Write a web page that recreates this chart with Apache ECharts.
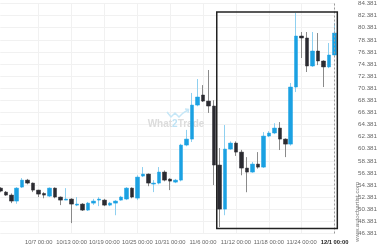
<!DOCTYPE html>
<html><head><meta charset="utf-8">
<script src="https://cdn.jsdelivr.net/npm/echarts@6/dist/echarts.min.js"></script>
<style>html,body{margin:0;padding:0;background:#fff}#c{width:380px;height:250px}</style>
</head><body><div id="c"></div>
<script>
const categories = ["9/30","10/1","10/2","10/3","10/4","10/5","10/6","10/7","10/8","10/9","10/10","10/11","10/12","10/13","10/14","10/15","10/16","10/17","10/18","10/19","10/20","10/21","10/22","10/23","10/24","10/25","10/26","10/27","10/28","10/29","10/30","10/31","11/1","11/2","11/3","11/4","11/5","11/6","11/7","11/8","11/9","11/10","11/11","11/12","11/13","11/14","11/15","11/16","11/17","11/18","11/19","11/20","11/21","11/22","11/23","11/24","11/25","11/26","11/27","11/28","11/29","12/1"];
const opens  = [53.88,53.22,52.73,51.74,54.05,55.20,54.71,53.55,53.00,52.56,53.88,52.40,51.90,52.07,51.07,51.24,50.25,51.40,51.90,51.90,51.07,51.40,51.90,52.07,53.88,52.23,55.87,56.20,54.55,54.71,56.53,55.37,54.87,55.20,60.99,61.98,67.60,69.26,68.26,67.44,57.69,50.41,60.33,61.32,59.83,57.19,56.53,57.85,57.35,62.48,62.98,63.80,61.98,61.15,70.58,79.01,78.68,74.05,76.53,74.88,73.90,75.87];
const closes = [53.39,52.73,51.74,53.88,55.20,54.71,53.55,52.89,52.73,53.88,52.40,51.90,52.07,51.24,51.24,50.25,51.40,51.74,52.07,51.07,51.40,51.74,52.40,53.88,52.40,55.70,56.20,54.71,54.71,56.53,55.20,55.04,55.20,60.99,61.98,67.60,68.93,68.26,67.44,57.69,50.41,60.33,61.32,59.83,57.19,56.53,57.85,57.35,62.48,62.98,63.80,61.98,61.15,70.58,79.01,78.68,74.05,76.53,74.88,73.90,75.87,79.50];
const lows   = [53.20,52.60,51.40,51.30,53.90,54.50,53.22,52.40,52.20,52.40,52.20,51.07,51.90,48.10,50.90,50.10,50.10,51.10,50.90,50.90,50.90,49.40,51.80,51.90,52.20,51.90,55.70,54.20,53.22,54.50,55.00,53.55,54.70,55.00,60.80,61.50,67.40,68.10,66.30,54.38,47.45,49.40,60.20,59.20,56.00,53.20,56.40,57.10,57.20,62.30,62.80,60.17,59.00,60.90,69.75,75.37,73.06,73.90,74.20,70.58,73.70,75.60];
const highs  = [54.05,53.40,53.00,54.05,55.54,55.40,54.80,53.60,53.20,54.00,54.00,52.50,53.88,52.20,52.40,51.40,51.60,52.10,52.40,52.10,51.60,51.90,52.60,54.05,54.00,56.00,57.36,56.30,55.20,57.36,56.80,55.50,55.40,61.20,63.50,69.60,71.90,70.90,73.39,68.40,60.50,64.30,61.60,61.60,60.20,59.00,58.20,59.83,63.14,63.30,64.60,64.79,62.10,71.24,82.81,79.67,79.67,79.67,79.50,75.00,77.85,81.16];
const yTickBase = 46.381, yTickTop = 84.381, yTickStep = 2;
const labelIndices = [7,13,19,25,31,37,43,49,55,61];
const boxFrom = 39.5, boxTo = 61.5, boxHigh = 82.98, boxLow = 47.22;

const off = yTickBase - Math.floor(yTickBase); // 0.381 shift so ticks sit on integers
const sh = v => +(v - off).toFixed(3);
const wickData = opens.map((o,i)=>[sh(o),sh(closes[i]),sh(lows[i]),sh(highs[i])]);
const bodyData = opens.map((o,i)=>[sh(o),sh(closes[i]),sh(Math.min(o,closes[i])),sh(Math.max(o,closes[i]))]);
const showIdx = (i)=>labelIndices.indexOf(i)>=0;
const font = 'Liberation Sans, Arial, sans-serif';

const chart = echarts.init(document.getElementById('c'));
chart.setOption({
  animation:false,
  grid:{left:0.3, right:42, top:3.5, bottom:16.5, containLabel:false},
  xAxis:{type:'category', data:categories, boundaryGap:false,
    axisLine:{show:false}, axisTick:{show:false},
    splitLine:{show:true, interval:(i)=>showIdx(i), lineStyle:{color:'#f1f1f1', width:1}},
    axisLabel:{interval:(i)=>showIdx(i), margin:6, fontSize:5.8, fontFamily:font, color:'#666',
      formatter:(v,i)=> i===categories.length-1 ? '{b|'+v+' 00:00}' : v+' 00:00',
      rich:{b:{fontSize:5.8, fontFamily:font, fontWeight:'bold', color:'#222'}}}},
  yAxis:{type:'value', position:'right', min:sh(yTickBase), max:sh(yTickTop), interval:yTickStep, scale:true,
    axisLine:{show:false}, axisTick:{show:false},
    splitLine:{lineStyle:{color:'#f1f1f1', width:1}},
    axisLabel:{margin:23.5, fontSize:6.2, fontFamily:font, color:'#666', formatter:(v)=>(v+off).toFixed(3)}},
  series:[
    {type:'candlestick', data:wickData, barWidth:1, clip:false,
      itemStyle:{color:'#8fd0f0', color0:'#8a8a8a', borderColor:'#8fd0f0', borderColor0:'#8a8a8a', borderWidth:1}},
    {type:'candlestick', data:bodyData, barWidth:4, clip:false,
      itemStyle:{color:'#1ba1e2', color0:'#2b2b31', borderColor:'#1ba1e2', borderColor0:'#2b2b31', borderWidth:0.5},
      markLine:{silent:true, symbol:'none', label:{show:false},
        lineStyle:{color:'#9a9a9a', type:[2,2], width:1}, data:[{xAxis:categories.length-1}]}}
  ]
});

const p = (x,y)=>chart.convertToPixel({gridIndex:0},[x,y]);
const a0 = p(Math.floor(boxFrom), sh(boxHigh)), a1 = p(Math.ceil(boxFrom), sh(boxHigh));
const b0 = p(Math.floor(boxTo), sh(boxLow)), b1 = p(Math.floor(boxTo)-1, sh(boxLow));
const x1 = (a0[0]+a1[0])/2, x2 = b0[0] + (b0[0]-b1[0])/2;
chart.setOption({graphic:[
  {type:'rect', shape:{x:x1, y:a0[1], width:x2-x1, height:b0[1]-a0[1]}, style:{fill:'none', stroke:'#222', lineWidth:1.5}, z:10},
  {type:'text', x:176, y:124, style:{text:'{a|What}{c|2}{a|Trade}', align:'center', verticalAlign:'middle',
    rich:{a:{fontSize:10, fontWeight:'bold', fontFamily:font, fill:'#dcdcdc'}, c:{fontSize:10, fontWeight:'bold', fontFamily:font, fill:'#bfe3f5'}}}, z:0},
  {type:'polyline', shape:{points:[[167,112],[171,117],[175,113],[179,117],[183,113],[188,110]]}, style:{stroke:'#c6e7f7', lineWidth:1.5, fill:'none'}, z:0},
  {type:'polyline', shape:{points:[[185,109],[188.5,109.5],[188,113]]}, style:{stroke:'#c6e7f7', lineWidth:1.5, fill:'none'}, z:0},
  {type:'text', x:357, y:212, rotation:Math.PI/2, style:{text:'www.autochartist.com', align:'center', verticalAlign:'middle', fontSize:6.2, fontFamily:font, fill:'#777'}, z:10}
]});
</script></body></html>
